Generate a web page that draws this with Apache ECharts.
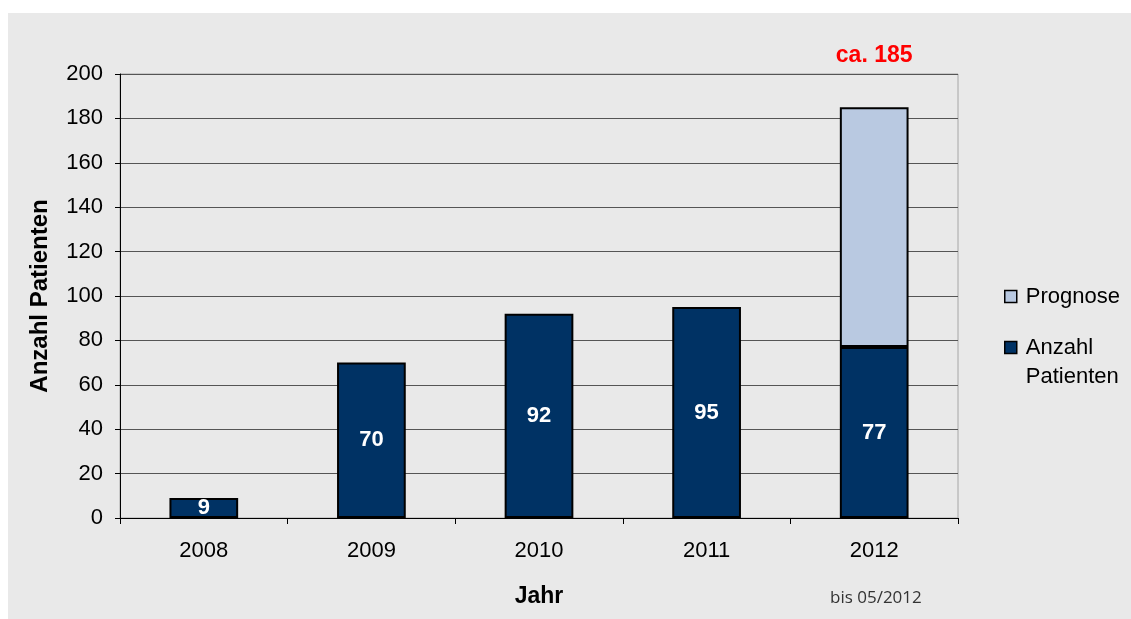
<!DOCTYPE html>
<html>
<head>
<meta charset="utf-8">
<script src="https://cdn.jsdelivr.net/npm/echarts@6/dist/echarts.min.js"></script>
<style>
  html, body { margin: 0; padding: 0; background: #ffffff; }
  #panel { position: absolute; left: 8px; top: 13px; width: 1123px; height: 606px; background: #e9e9e9; }
  #chart { position: absolute; left: 0; top: 0; width: 1131px; height: 619px; }
</style>
</head>
<body>
<div id="panel"></div>
<div id="chart"></div>
<script>
// Patients per year, with the forecast for the current year stacked on top
const years = ['2008', '2009', '2010', '2011', '2012'];
const patients = [9, 70, 92, 95, 77];
const forecastTotal = [null, null, null, null, 185];
const yTicks = { min: 0, max: 200, interval: 20 };

const forecastPart = forecastTotal.map((t, i) => t == null ? null : t - patients[i]);

const FONT = 'Liberation Sans, Arial, sans-serif';
const chart = echarts.init(document.getElementById('chart'), null, { renderer: 'canvas' });

const legendText = { fontFamily: FONT, fontSize: 22, color: '#000', lineHeight: 29, padding: [0, 0, 0, 4] };
const legendBase = {
  orient: 'vertical',
  left: 1004,
  padding: 0,
  itemWidth: 12,
  itemHeight: 12,
  icon: 'rect',
  selectedMode: false,
  textStyle: legendText,
  itemStyle: { borderColor: '#000', borderWidth: 1.5 }
};

chart.setOption({
  backgroundColor: 'transparent',
  animation: false,
  grid: {
    left: 120, top: 74, width: 838, height: 444,
    show: true, borderColor: '#a6a6a6', borderWidth: 1, backgroundColor: 'transparent'
  },
  legend: [
    Object.assign({}, legendBase, { data: ['Prognose'], top: 282 }),
    Object.assign({}, legendBase, {
      data: ['Anzahl Patienten'],
      top: 304,
      // blank first line keeps the swatch level with "Anzahl"
      formatter: () => '\nAnzahl\nPatienten'
    })
  ],
  xAxis: {
    type: 'category',
    data: years,
    name: 'Jahr',
    nameLocation: 'middle',
    nameGap: 67,
    nameTextStyle: { fontFamily: FONT, fontSize: 23, fontWeight: 'bold', color: '#000' },
    axisLine: { lineStyle: { color: '#000', width: 1 } },
    axisTick: { show: true, length: 6, lineStyle: { color: '#000' } },
    axisLabel: { fontFamily: FONT, fontSize: 22, color: '#000', margin: 22 }
  },
  yAxis: {
    type: 'value',
    min: yTicks.min, max: yTicks.max, interval: yTicks.interval,
    name: 'Anzahl Patienten',
    nameLocation: 'middle',
    nameGap: 68,
    nameTextStyle: { fontFamily: FONT, fontSize: 24, fontWeight: 'bold', color: '#000' },
    axisLine: { show: true, lineStyle: { color: '#000', width: 1 } },
    axisTick: { show: true, length: 5, lineStyle: { color: '#000' } },
    axisLabel: { fontFamily: FONT, fontSize: 22, color: '#000', margin: 17 },
    splitLine: { show: true, lineStyle: { color: '#555', width: 1 } }
  },
  series: [
    {
      name: 'Anzahl Patienten',
      type: 'bar',
      stack: 'total',
      data: patients,
      barWidth: '41%',
      itemStyle: { color: '#003264', borderColor: '#000', borderWidth: 2 },
      label: {
        show: true, position: 'inside',
        fontFamily: FONT, fontSize: 22, fontWeight: 'bold', color: '#fff'
      }
    },
    {
      name: 'Prognose',
      type: 'bar',
      stack: 'total',
      data: forecastPart,
      barWidth: '41%',
      itemStyle: { color: '#b9c9e1', borderColor: '#000', borderWidth: 2 },
      label: {
        show: true, position: 'top', distance: 40,
        fontFamily: FONT, fontSize: 23, fontWeight: 'bold', color: '#ff0000',
        formatter: p => p.value == null ? '' : 'ca. ' + forecastTotal[p.dataIndex]
      }
    }
  ],
  graphic: [
    {
      type: 'text',
      left: 830, top: 590,
      style: { text: 'bis 05/2012', font: '17px "Open Sans", sans-serif', fill: '#333' }
    }
  ]
});
</script>
</body>
</html>
